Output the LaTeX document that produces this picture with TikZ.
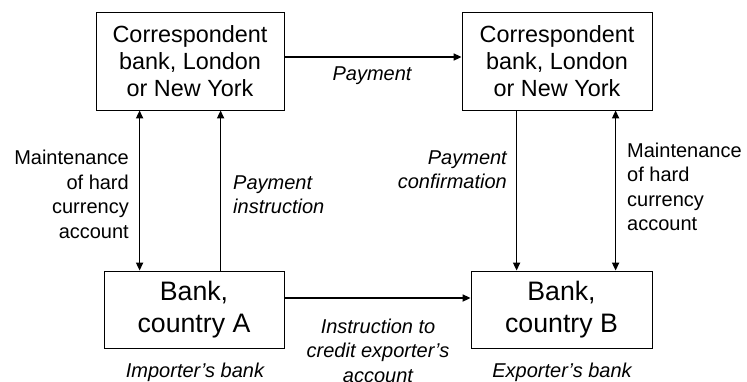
\documentclass[tikz,border=0pt]{standalone}
\usepackage{fontspec}
\setmainfont{Liberation Sans}
\usetikzlibrary{arrows.meta}
\begin{document}
\begin{tikzpicture}[x=1bp,y=-1bp,
  box/.style={draw,line width=0.8bp,inner sep=0pt,align=center},
  topbox/.style={box,font=\fontsize{23.4bp}{27bp}\selectfont},
  botbox/.style={box,font=\fontsize{26.7bp}{32bp}\selectfont},
  lbl/.style={inner sep=0pt,font=\fontsize{20bp}{24.5bp}\selectfont},
  ilbl/.style={lbl,font=\fontsize{20bp}{24.5bp}\selectfont\itshape},
  conn/.style={line width=1.6bp,-{Triangle[length=8bp,width=7bp]}},
  dconn/.style={line width=1.6bp,{Triangle[length=8bp,width=7bp]}-{Triangle[length=8bp,width=7bp]}}]
\useasboundingbox (0,0) rectangle (747,381);
\node[topbox,minimum width=188bp,minimum height=98bp] (TL) at (190,61) {Correspondent\\bank, London\\or New York};
\node[topbox,minimum width=190bp,minimum height=98bp] (TR) at (557,61) {Correspondent\\bank, London\\or New York};
\node[botbox,minimum width=180bp,minimum height=77bp] (BL) at (194,309.5) {Bank,\\country A};
\node[botbox,minimum width=181bp,minimum height=77bp] (BR) at (561.5,309.5) {Bank,\\country B};
% connectors
\draw[conn] ([yshift=4bp]TL.east) -- ([yshift=4bp]TL.east -| TR.west);
\draw[conn] ([yshift=11.5bp]BL.east) -- ([yshift=11.5bp]BL.east -| BR.west);
\draw[dconn] ([xshift=44bp]TL.south west) -- ([xshift=44bp]TL.south west |- BL.north);
\draw[conn] ([xshift=125bp]TL.south west |- BL.north) -- ([xshift=125bp]TL.south west);
\draw[conn] ([xshift=55bp]TR.south west) -- ([xshift=55bp]TR.south west |- BR.north);
\draw[dconn] ([xshift=154bp]TR.south west) -- ([xshift=154bp]TR.south west |- BR.north);
% labels
\node[ilbl] (payl) at (372,76) {Payment};
\node[lbl,align=right,anchor=east] (ml) at (129,194.5) {Maintenance\\of hard\\currency\\account};
\node[ilbl,align=left,anchor=west] (pil) at (233,194.5) {Payment\\instruction};
\node[ilbl,align=right,anchor=east] (pcl) at (507,169.5) {Payment\\confirmation};
\node[lbl,align=left,anchor=west] (mr) at (627,187) {Maintenance\\of hard\\currency\\account};
\node[ilbl,align=center] (icl) at (378,350.5) {Instruction to\\credit exporter's\\account};
\node[ilbl] (ib) at (195,372) {Importer's bank};
\node[ilbl] (eb) at (562,372) {Exporter's bank};
\end{tikzpicture}
\end{document}
